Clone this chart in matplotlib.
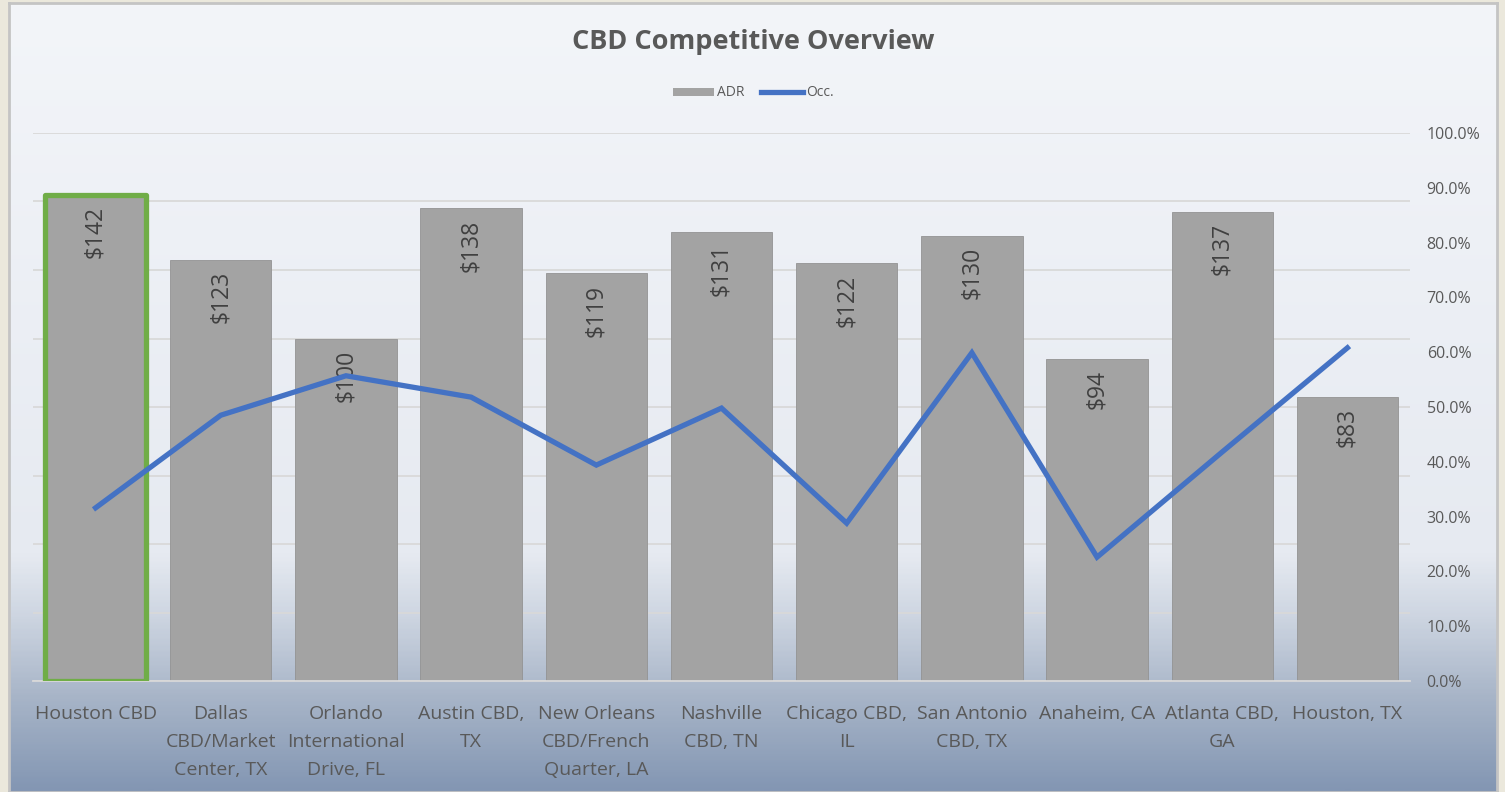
import matplotlib
matplotlib.use("Agg")
import matplotlib.pyplot as plt
import numpy as np
from matplotlib.colors import LinearSegmentedColormap
from matplotlib.patches import Patch
from matplotlib.lines import Line2D

plt.rcParams['font.family'] = ['Open Sans', 'DejaVu Sans']

# === Data ===
markets = ['Houston CBD', 'Dallas\nCBD/Market\nCenter, TX', 'Orlando\nInternational\nDrive, FL',
           'Austin CBD,\nTX', 'New Orleans\nCBD/French\nQuarter, LA', 'Nashville\nCBD, TN',
           'Chicago CBD,\nIL', 'San Antonio\nCBD, TX', 'Anaheim, CA', 'Atlanta CBD,\nGA',
           'Houston, TX']
adr = [142, 123, 100, 138, 119, 131, 122, 130, 94, 137, 83]
occ = [0.316, 0.485, 0.557, 0.518, 0.394, 0.498, 0.288, 0.599, 0.226, 0.418, 0.608]
highlight = 'Houston CBD'

# === Style ===
text_col = '#595959'
bar_col = '#a3a3a3'
line_col = '#4472C4'
green = '#70AD47'
grid_col = '#d9d9d9'

W, H = 1505, 792
fig = plt.figure(figsize=(W / 100, H / 100), dpi=100)
fig.patch.set_facecolor('#ebe8dc')

# background panel with vertical gradient
bg = fig.add_axes([9 / W, 0, (1497 - 9) / W, (792 - 3) / H], zorder=0)
cmap = LinearSegmentedColormap.from_list('bg', [
    (0.0, '#f3f5f9'), (0.70, '#e6eaf1'), (0.78, '#cdd5e1'),
    (0.88, '#a8b5c8'), (1.0, '#8396b3')])
grad = np.linspace(0, 1, 400).reshape(-1, 1)
bg.imshow(grad, aspect='auto', cmap=cmap, extent=[0, 1, 0, 1], origin='upper')
bg.set_xticks([])
bg.set_yticks([])
for s in bg.spines.values():
    s.set_color('#c4c4c4')
    s.set_linewidth(2)

# main axes (bars on hidden primary axis)
ax = fig.add_axes([33 / W, 1 - 681 / H, (1410 - 33) / W, (681 - 133) / H], zorder=1)
ax.patch.set_visible(False)
x = np.arange(len(markets))
ax.bar(x, adr, width=0.81, color=bar_col, edgecolor='#939393', linewidth=0.6, zorder=2)
hi = markets.index(highlight)
ax.bar(x[hi], adr[hi], width=0.81, fill=False, edgecolor=green, linewidth=3.8,
       joinstyle='round', zorder=3)
for xi, v in zip(x, adr):
    ax.annotate(f'${v}', (xi, v), xytext=(0, -8), textcoords='offset points',
                rotation=90, ha='center', va='top', fontsize=16.5, color='#404040', zorder=4)

ax.set_xlim(-0.5, len(markets) - 0.5)
ax.set_ylim(0, 160)
ax.set_yticks(np.arange(0, 161, 20))
ax.yaxis.grid(True, color=grid_col, linewidth=1.3, zorder=0)
ax.set_axisbelow(True)
ax.set_xticks(x)
ax.set_xticklabels(markets, fontsize=14, color=text_col, linespacing=1.72)
ax.tick_params(axis='x', length=0, pad=17)
for s in ['top', 'left', 'right']:
    ax.spines[s].set_visible(False)
ax.spines['bottom'].set_color(grid_col)
ax.spines['bottom'].set_linewidth(1.3)

# occupancy line on secondary axis
ax2 = ax.twinx()
ax2.plot(x, occ, color=line_col, linewidth=3.8, solid_joinstyle='miter', zorder=5)
ax2.set_ylim(0, 1)
ax2.set_yticks(np.arange(0, 1.01, 0.1))
ax2.set_yticklabels([f'{t * 100:.1f}%' for t in np.arange(0, 1.01, 0.1)], fontsize=11.5, color=text_col)
ax2.tick_params(axis='y', length=0, pad=12)
for s in ax2.spines.values():
    s.set_visible(False)
# twinx puts the left ticks back, so hide them afterwards
ax.tick_params(axis='y', left=False, right=False, labelleft=False, labelright=False)

fig.text(753 / W, 1 - 42 / H, 'CBD Competitive Overview', ha='center', va='center',
         fontsize=19.5, fontweight='bold', color=text_col)

handles = [Patch(facecolor=bar_col, edgecolor='none'),
           Line2D([0], [0], color=line_col, linewidth=3.8)]
fig.legend(handles, ['ADR', 'Occ.'], loc='center', bbox_to_anchor=(753 / W, 1 - 93 / H),
           ncol=2, frameon=False, fontsize=10, handlelength=3.0, handleheight=0.5,
           handletextpad=0.2, columnspacing=1.2, labelcolor=text_col)

fig.savefig('out.png', dpi=100)
